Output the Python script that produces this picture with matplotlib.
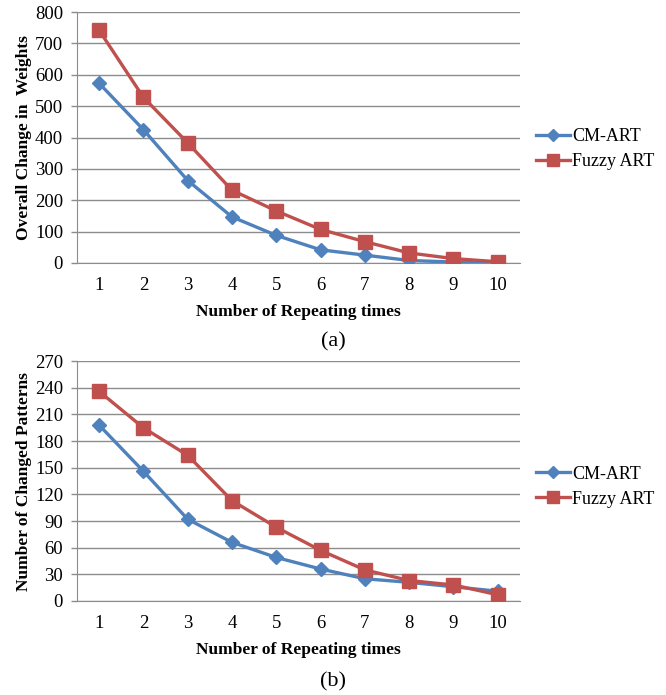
import numpy as np
import matplotlib.pyplot as plt

# ── Data ──────────────────────────────────────────────────────
repeats = [1, 2, 3, 4, 5, 6, 7, 8, 9, 10]

cm_weights    = [573, 425, 263, 147, 88, 42, 25, 8, 3, 2]
fuzzy_weights = [742, 528, 383, 232, 166, 107, 68, 32, 14, 4]

cm_patterns    = [198, 146, 92, 66, 49, 36, 25, 21, 16, 11]
fuzzy_patterns = [236, 195, 164, 113, 83, 57, 35, 23, 18, 7]

series_names = ['CM-ART', 'Fuzzy ART']
BLUE, RED = '#4F81BD', '#C0504D'

plt.rcParams['font.family'] = ['Liberation Serif', 'DejaVu Serif']

fig = plt.figure(figsize=(6.66, 6.95), dpi=100)
ax_a = fig.add_axes([0.1156, 0.6216, 0.665, 0.361])
ax_b = fig.add_axes([0.1156, 0.1353, 0.665, 0.345])


def draw(ax, cm, fz, ymax, step, ylabel, leg_y):
    ax.plot(repeats, cm, color=BLUE, lw=2.4, marker='D', ms=7.5,
            label=series_names[0], zorder=4)
    ax.plot(repeats, fz, color=RED, lw=2.4, marker='s', ms=10,
            label=series_names[1], zorder=5)
    ax.set_xlim(0.5, 10.5)
    ax.set_ylim(0, ymax)
    ax.set_yticks(np.arange(0, ymax + 1, step))
    ax.set_xticks(repeats)
    ax.grid(axis='y', color='#8c8c8c', lw=1.0)
    ax.set_axisbelow(True)
    for s in ['top', 'right']:
        ax.spines[s].set_visible(False)
    for s in ['left', 'bottom']:
        ax.spines[s].set_color('#8c8c8c')
    ax.tick_params(axis='y', labelsize=13.5, length=4, width=1,
                   color='#8c8c8c', pad=6)
    ax.tick_params(axis='x', labelsize=13.5, length=0, pad=10)
    ax.set_xlabel('Number of Repeating times', fontsize=12.5,
                  fontweight='bold', labelpad=7)
    ax.set_ylabel(ylabel, fontsize=12.5, fontweight='bold', labelpad=2)
    ax.legend(loc='center left', bbox_to_anchor=(1.0, leg_y),
              frameon=False, fontsize=13, handlelength=1.9,
              handletextpad=0.1, labelspacing=0.45, markerscale=0.8)


draw(ax_a, cm_weights, fuzzy_weights, 800, 100,
     'Overall Change in  Weights', 0.454)
draw(ax_b, cm_patterns, fuzzy_patterns, 270, 30,
     'Number of Changed Patterns', 0.477)

fig.text(0.5, 1 - 342 / 695, '(a)', ha='center', va='center', fontsize=16)
fig.text(0.5, 1 - 682 / 695, '(b)', ha='center', va='center', fontsize=16)

fig.savefig('out.png', dpi=100)
